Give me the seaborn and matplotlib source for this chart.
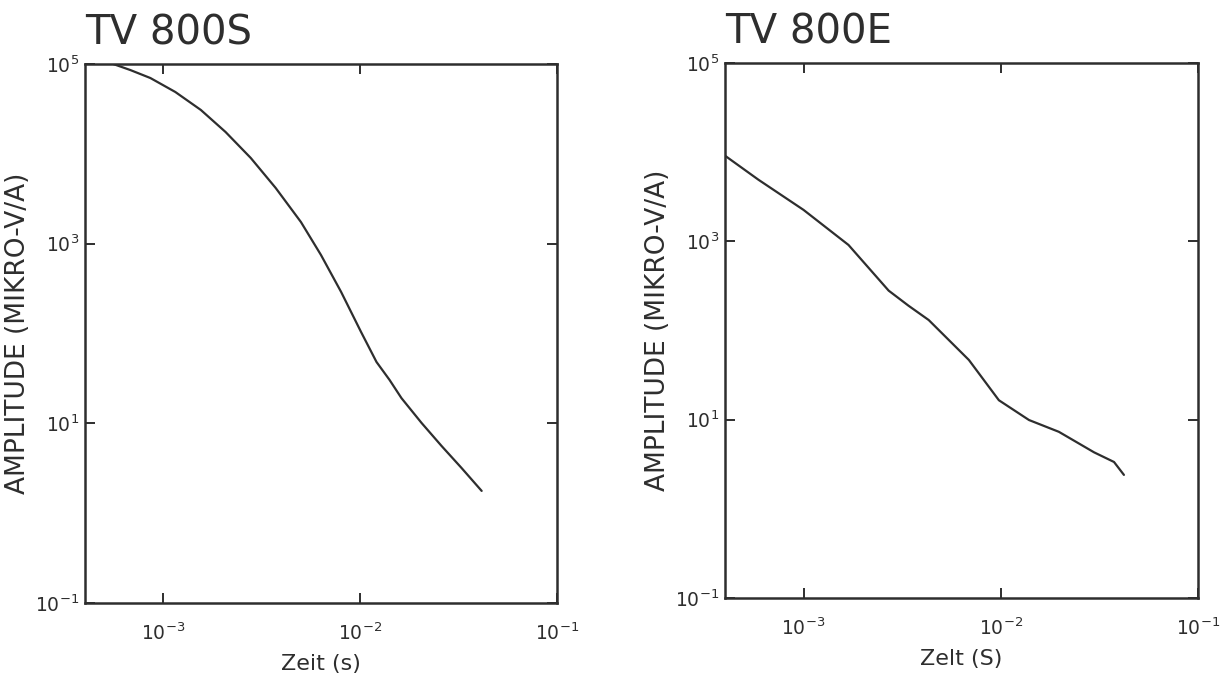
import matplotlib
matplotlib.use("Agg")
import matplotlib.pyplot as plt
import seaborn as sns
import pandas as pd

# ---- data ----
titles = ["TV 800S", "TV 800E"]
xlabels = ["Zeit (s)", "Zelt (S)"]
ylabel = "AMPLITUDE (MIKRO-V/A)"

t_800s = [5.56e-4, 6.79e-4, 8.59e-4, 1.15e-3, 1.55e-3, 2.07e-3, 2.78e-3,
          3.72e-3, 5.0e-3, 6.32e-3, 8.0e-3, 1.01e-2, 1.21e-2, 1.41e-2,
          1.62e-2, 2.05e-2, 2.59e-2, 3.27e-2, 4.14e-2]
a_800s = [1.0e5, 8.57e4, 6.98e4, 4.88e4, 3.08e4, 1.75e4, 8.99e3,
          4.17e3, 1.74e3, 748, 290, 104, 48.2, 30.4,
          19.1, 10.1, 5.6, 3.19, 1.77]

t_800e = [3.95e-4, 5.91e-4, 1.0e-3, 1.69e-3, 2.70e-3, 3.4e-3, 4.31e-3,
          6.89e-3, 9.78e-3, 1.39e-2, 1.97e-2, 2.97e-2, 3.75e-2, 4.21e-2]
a_800e = [9.3e3, 4.9e3, 2.25e3, 910, 280, 190, 131,
          46.7, 16.5, 9.9, 7.3, 4.3, 3.35, 2.4]

xticks = [1e-3, 1e-2, 1e-1]
xticklabels = ["10$^{-3}$", "10$^{-2}$", "10$^{-1}$"]
yticks = [1e-1, 1e1, 1e3, 1e5]
yticklabels = ["10$^{-1}$", "10$^{1}$", "10$^{3}$", "10$^{5}$"]
xlim = (4e-4, 1e-1)
ylim = (1e-1, 1e5)

# ---- plotting ----
sns.set_theme(style="ticks")
plt.rcParams["font.family"] = ["DejaVu Sans"]
plt.rcParams["mathtext.default"] = "regular"

ink = "#2e2e2e"
fig = plt.figure(figsize=(12.2, 6.83), dpi=100)
fig.patch.set_facecolor("white")

positions = [[0.0697, 0.1171, 0.3869, 0.7892],
             [0.5943, 0.1245, 0.3877, 0.7833]]
datasets = [(t_800s, a_800s), (t_800e, a_800e)]

for i, (pos, (t, a)) in enumerate(zip(positions, datasets)):
    ax = fig.add_axes(pos)
    df = pd.DataFrame({"t": t, "a": a})
    sns.lineplot(data=df, x="t", y="a", ax=ax, color=ink, linewidth=1.6,
                 sort=False, estimator=None)
    ax.set_xscale("log")
    ax.set_yscale("log")
    ax.set_xlim(*xlim)
    ax.set_ylim(*ylim)
    ax.set_xticks(xticks)
    ax.set_xticklabels(xticklabels)
    ax.set_yticks(yticks)
    ax.set_yticklabels(yticklabels)
    ax.minorticks_off()
    ax.tick_params(axis="both", which="major", direction="in", length=7,
                   width=1.4, color=ink, labelsize=13.5, labelcolor=ink,
                   top=True, right=True)
    ax.tick_params(axis="x", pad=14)
    ax.tick_params(axis="y", pad=4)
    for sp in ax.spines.values():
        sp.set_visible(True)
        sp.set_color(ink)
        sp.set_linewidth(1.8)
    ax.set_xlabel(xlabels[i], fontsize=16, color=ink, labelpad=7)
    ax.set_ylabel(ylabel, fontsize=19, color=ink)
    ax.yaxis.set_label_coords(-54 / 472, 0.5)
    ax.set_title(titles[i], fontsize=29, color=ink, loc="left", pad=14)
    ax.set_facecolor("white")

fig.savefig("out.png", dpi=100, facecolor="white")
